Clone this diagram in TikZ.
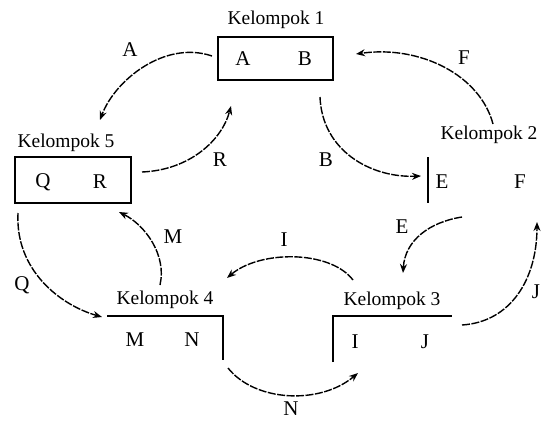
\documentclass[tikz,border=0pt]{standalone}
\usepackage{fontspec}
\setmainfont{Liberation Serif}
\usetikzlibrary{arrows.meta}
\begin{document}
\begin{tikzpicture}[x=1pt,y=-1pt,
  title/.style={font=\fontsize{19.5}{21}\selectfont, inner sep=0pt},
  member/.style={font=\fontsize{21}{23}\selectfont, inner sep=0pt},
  lbl/.style={font=\fontsize{21}{23}\selectfont, inner sep=0pt},
  grp/.style={draw, line width=1.5pt, inner sep=0pt},
  edge/.style={line width=1.5pt},
  mv/.style={line width=1.4pt, dash pattern=on 8pt off 1.5pt, -{Stealth[length=9pt,width=7pt]}}
]
\useasboundingbox (0,0) rectangle (542,423);
% groups
\node[grp, minimum width=115pt, minimum height=43pt] (k1) at (275.5,58.5) {};
\node[title] (t1) at (276,20) {Kelompok 1};
\node[member] (a) at (243,59) {A};
\node[member] (b) at (305,59) {B};

\node[grp, minimum width=116pt, minimum height=46pt] (k5) at (73,180) {};
\node[title] (t5) at (66,143) {Kelompok 5};
\node[member] (q) at (43,182) {Q};
\node[member] (r) at (100,182) {R};

\coordinate (k2t) at (428,157);
\coordinate (k2b) at (428,203);
\draw[edge] (k2t) -- (k2b);
\node[title] (t2) at (489,135) {Kelompok 2};
\node[member] (e) at (442,182) {E};
\node[member] (f) at (520,182) {F};

\coordinate (k3a) at (333,362);
\coordinate (k3b) at (333,316);
\coordinate (k3c) at (452,316);
\draw[edge] (k3a) -- (k3b) -- (k3c);
\node[title] (t3) at (392,301) {Kelompok 3};
\node[member] (i) at (355,342) {I};
\node[member] (j) at (425,342) {J};

\coordinate (k4a) at (107,316);
\coordinate (k4b) at (223,316);
\coordinate (k4c) at (223,360);
\draw[edge] (k4a) -- (k4b) -- (k4c);
\node[title] (t4) at (165,300) {Kelompok 4};
\node[member] (m) at (135,340) {M};
\node[member] (n) at (192,340) {N};

% arrow end points
\coordinate (sA) at (212,56);  \coordinate (eA) at (100,120);
\coordinate (sR) at (142,172); \coordinate (eR) at (231,106);
\coordinate (sB) at (320,97);  \coordinate (eB) at (421,176);
\coordinate (sF) at (493,124); \coordinate (eF) at (356,54);
\coordinate (sE) at (462,217); \coordinate (eE) at (403,273);
\coordinate (sJ) at (462,325); \coordinate (eJ) at (537,222);
\coordinate (sI) at (353,280); \coordinate (eI) at (227,278);
\coordinate (sM) at (160,285); \coordinate (eM) at (119,212);
\coordinate (sQ) at (18,213);  \coordinate (eQ) at (102,317);
\coordinate (sN) at (228,368); \coordinate (eN) at (358,373);

\draw[mv] (sA) .. controls (165,40) and (115,80) .. (eA);
\draw[mv] (sR) .. controls (190,170) and (222,140) .. (eR);
\draw[mv] (sB) .. controls (322,150) and (370,178) .. (eB);
\draw[mv] (sF) .. controls (480,75) and (420,45) .. (eF);
\draw[mv] (sE) .. controls (430,222) and (405,240) .. (eE);
\draw[mv] (sJ) .. controls (510,322) and (537,280) .. (eJ);
\draw[mv] (sI) .. controls (330,250) and (260,250) .. (eI);
\draw[mv] (sM) .. controls (167,255) and (145,225) .. (eM);
\draw[mv] (sQ) .. controls (15,270) and (60,305) .. (eQ);
\draw[mv] (sN) .. controls (255,402) and (320,405) .. (eN);

% labels
\node[lbl] (lA) at (130,50) {A};
\node[lbl] (lR) at (220,160) {R};
\node[lbl] (lB) at (326,160) {B};
\node[lbl] (lF) at (464,58) {F};
\node[lbl] (lE) at (402,227) {E};
\node[lbl] (lJ) at (536,292) {J};
\node[lbl] (lI) at (284,240) {I};
\node[lbl] (lM) at (173,237) {M};
\node[lbl] (lQ) at (22,285) {Q};
\node[lbl] (lN) at (291,409) {N};
\end{tikzpicture}
\end{document}
